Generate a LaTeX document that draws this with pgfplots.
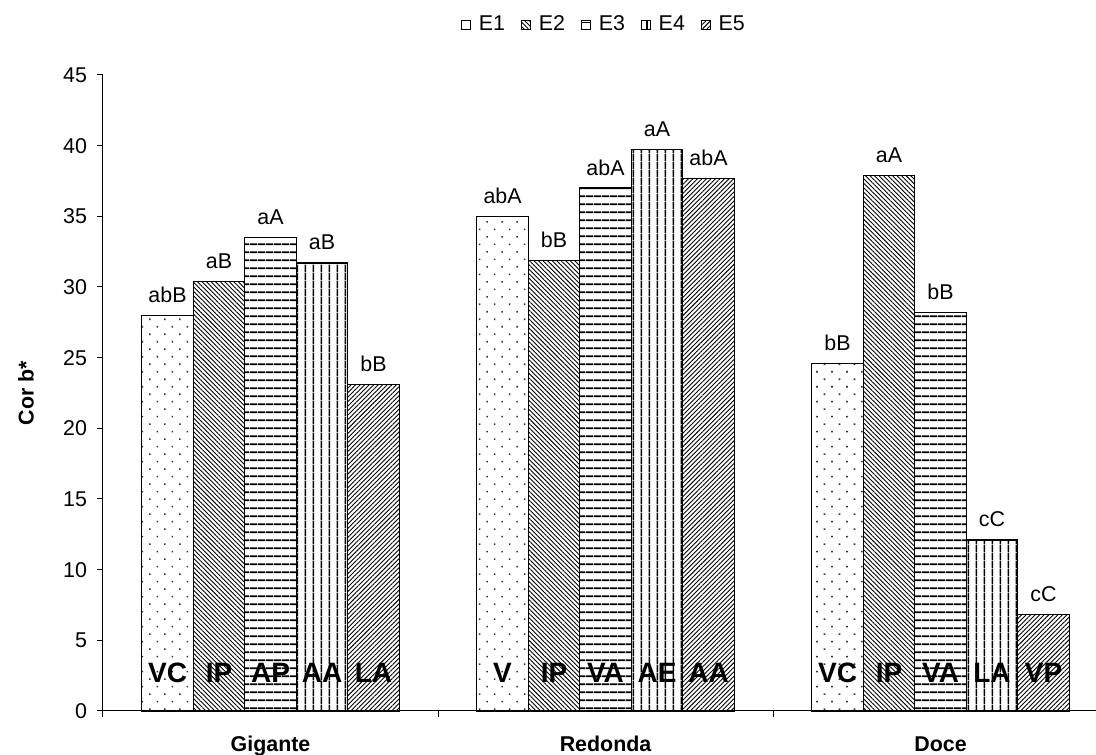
\documentclass[border=0pt]{standalone}
\usepackage{fontspec}
\setmainfont{Liberation Sans}
\usepackage{pgfplots}
\usepackage{pgfplotstable}
\pgfplotsset{compat=1.18}
\usetikzlibrary{patterns.meta}

\pgfplotstableread{
x y lab
0 28.0 abB
1 35.0 abA
2 24.6 bB
}\tEone
\pgfplotstableread{
x y lab
0 30.4 aB
1 31.9 bB
2 37.9 aA
}\tEtwo
\pgfplotstableread{
x y lab
0 33.5 aA
1 37.0 abA
2 28.2 bB
}\tEthree
\pgfplotstableread{
x y lab
0 31.7 aB
1 39.7 aA
2 12.1 cC
}\tEfour
\pgfplotstableread{
x y lab
0 23.1 bB
1 37.7 abA
2 6.85 cC
}\tEfive

\newcommand{\fs}{\fontsize{10.7}{12}\selectfont}

\begin{document}
\begin{tikzpicture}
\begin{axis}[
  at={(0,0)}, anchor=south west,
  scale only axis,
  width=496.5pt, height=318pt,
  xmin=-0.5, xmax=2.464,
  ymin=0, ymax=45,
  ytick={0,5,...,45},
  axis x line*=bottom, axis y line*=left,
  axis line style={-, black, line width=0.5pt},
  tick align=outside,
  major tick length=3pt,
  tick style={black, line width=0.5pt},
  xtick={-0.5,0.5,1.5},
  xticklabels={},
  extra x ticks={0,1,2},
  extra x tick labels={Gigante,Redonda,Doce},
  extra x tick style={major tick length=0pt, tick label style={font=\fs\bfseries, anchor=base, yshift=-20pt}},
  /pgf/number format/assume math mode=true,
  yticklabel style={font=\fs, xshift=-1.5pt},
  ylabel={Cor b*},
  ylabel style={font=\fs\bfseries, at={(axis description cs:-0.0775,0.5)}, anchor=center, rotate=0},
  ybar=0pt,
  bar width=0.1537,
  point meta=explicit symbolic,
  nodes near coords,
  nodes near coords style={font=\fs, anchor=base, yshift=6.5pt},
  legend columns=-1,
  legend style={draw=none, at={(0.5055,1.0786)}, anchor=center, font=\fs,
    /tikz/every odd column/.append style={column sep=2pt},
    /tikz/every even column/.append style={column sep=6pt}},
  legend image code/.code={\draw[#1, line width=0.4pt] (0pt,-2pt) rectangle (4.5pt,2.5pt);},
  clip=false,
]
\addplot[draw=black, line width=0.6pt, fill=white, pattern={Dots[angle=45, distance=5.3pt, radius=0.55pt]}, pattern color=black!80] table[x=x, y=y, meta=lab] {\tEone};
\addplot[draw=black, line width=0.6pt, pattern={Lines[angle=-45, distance=1.6pt, line width=0.45pt]}, pattern color=black] table[x=x, y=y, meta=lab] {\tEtwo};
\addplot[draw=black, line width=0.6pt, pattern={Lines[angle=0, distance=3.85pt, line width=0.9pt]}, pattern color=black] table[x=x, y=y, meta=lab] {\tEthree};
\addplot[draw=black, line width=0.6pt, pattern={Lines[angle=90, distance=3.85pt, line width=0.8pt]}, pattern color=black] table[x=x, y=y, meta=lab] {\tEfour};
\addplot[draw=black, line width=0.6pt, pattern={Lines[angle=45, distance=1.6pt, line width=0.45pt]}, pattern color=black] table[x=x, y=y, meta=lab] {\tEfive};
\legend{E1,E2,E3,E4,E5}

\begin{scope}[every node/.style={font=\fontsize{14}{14}\selectfont\bfseries, anchor=base, inner sep=0pt}]
\node at (axis cs:-0.3074,2.05) {VC};
\node at (axis cs:-0.1537,2.05) {IP};
\node at (axis cs:0,2.05) {AP};
\node at (axis cs:0.1537,2.05) {AA};
\node at (axis cs:0.3074,2.05) {LA};
\node at (axis cs:0.6926,2.05) {V};
\node at (axis cs:0.8463,2.05) {IP};
\node at (axis cs:1,2.05) {VA};
\node at (axis cs:1.1537,2.05) {AE};
\node at (axis cs:1.3074,2.05) {AA};
\node at (axis cs:1.6926,2.05) {VC};
\node at (axis cs:1.8463,2.05) {IP};
\node at (axis cs:2,2.05) {VA};
\node at (axis cs:2.1537,2.05) {LA};
\node at (axis cs:2.3074,2.05) {VP};
\end{scope}
\end{axis}
\pgfresetboundingbox
\path (-51.5pt,-21.5pt) rectangle (496.5pt,355.5pt);
\end{tikzpicture}
\end{document}
